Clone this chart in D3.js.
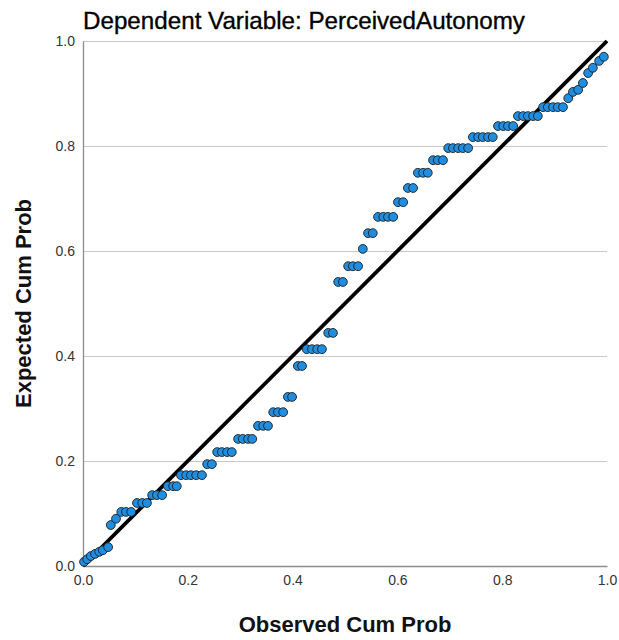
<!DOCTYPE html>
<html>
<head>
<meta charset="utf-8">
<script src="https://cdn.jsdelivr.net/npm/d3@7"></script>
<style>
  html, body { margin: 0; padding: 0; background: #fff; }
  svg { display: block; }
  text { font-family: "Liberation Sans", Arial, sans-serif; }
</style>
</head>
<body>
<svg id="chart" width="619" height="640"></svg>
<script>
const titleText = "Dependent Variable: PerceivedAutonomy";
const xLabel = "Observed Cum Prob";
const yLabel = "Expected Cum Prob";
const tickValues = [0, 0.2, 0.4, 0.6, 0.8, 1.0];

const observed = [
  0.002, 0.008, 0.015, 0.023, 0.031, 0.038, 0.048, 0.053, 0.063, 0.073,
  0.082, 0.092, 0.103, 0.113, 0.122, 0.132, 0.141, 0.151, 0.162, 0.172,
  0.179, 0.187, 0.197, 0.206, 0.216, 0.227, 0.237, 0.246, 0.256, 0.265,
  0.275, 0.284, 0.296, 0.305, 0.315, 0.323, 0.334, 0.344, 0.353, 0.363,
  0.372, 0.382, 0.391, 0.399, 0.410, 0.418, 0.427, 0.437, 0.447, 0.456,
  0.468, 0.477, 0.487, 0.496, 0.506, 0.515, 0.525, 0.534, 0.544, 0.553,
  0.563, 0.573, 0.582, 0.592, 0.601, 0.611, 0.620, 0.630, 0.639, 0.649,
  0.658, 0.668, 0.677, 0.687, 0.697, 0.706, 0.716, 0.725, 0.735, 0.744,
  0.754, 0.763, 0.773, 0.782, 0.792, 0.802, 0.811, 0.821, 0.830, 0.840,
  0.849, 0.859, 0.868, 0.878, 0.887, 0.897, 0.906, 0.916, 0.926, 0.935,
  0.945, 0.954, 0.964, 0.973, 0.985, 0.994
];
const expected = [
  0.008, 0.013, 0.019, 0.023, 0.027, 0.030, 0.036, 0.078, 0.090, 0.103,
  0.103, 0.103, 0.120, 0.120, 0.120, 0.135, 0.135, 0.135, 0.152, 0.152,
  0.152, 0.173, 0.173, 0.173, 0.173, 0.173, 0.194, 0.194, 0.217, 0.217,
  0.217, 0.217, 0.242, 0.242, 0.242, 0.242, 0.267, 0.267, 0.267, 0.293,
  0.293, 0.293, 0.322, 0.322, 0.381, 0.381, 0.413, 0.413, 0.413, 0.413,
  0.444, 0.444, 0.541, 0.541, 0.571, 0.571, 0.571, 0.604, 0.634, 0.634,
  0.665, 0.665, 0.665, 0.665, 0.693, 0.693, 0.720, 0.720, 0.749, 0.749,
  0.749, 0.773, 0.773, 0.773, 0.796, 0.796, 0.796, 0.796, 0.796, 0.817,
  0.817, 0.817, 0.817, 0.817, 0.838, 0.838, 0.838, 0.838, 0.857, 0.857,
  0.857, 0.857, 0.857, 0.874, 0.874, 0.874, 0.874, 0.874, 0.891, 0.903,
  0.907, 0.920, 0.939, 0.949, 0.962, 0.970
];
const refLine = [[0, 0], [1, 1]];

const svg = d3.select("#chart");
const mLeft = 83, mRight = 607, mTop = 41, mBottom = 566;

const x = d3.scaleLinear().domain([0, 1]).range([mLeft, mRight]);
const y = d3.scaleLinear().domain([0, 1]).range([mBottom, mTop]);

// gridlines
svg.append("g")
  .selectAll("line")
  .data(tickValues.filter(d => d > 0))
  .join("line")
  .attr("x1", mLeft).attr("x2", mRight)
  .attr("y1", d => y(d)).attr("y2", d => y(d))
  .attr("stroke", "#c8c8c8").attr("stroke-width", 1)
  .attr("shape-rendering", "crispEdges");

// axes
const xAxis = d3.axisBottom(x).tickValues(tickValues).tickFormat(d3.format(".1f")).tickSize(0).tickPadding(9);
const yAxis = d3.axisLeft(y).tickValues(tickValues).tickFormat(d3.format(".1f")).tickSize(0).tickPadding(8);

const gx = svg.append("g").attr("transform", `translate(0,${mBottom})`).call(xAxis);
const gy = svg.append("g").attr("transform", `translate(${mLeft},0)`).call(yAxis);
[gx, gy].forEach(g => {
  g.select(".domain").attr("stroke", "#8c8c8c").attr("stroke-width", 1.3);
  g.selectAll("text").attr("font-size", 14).attr("fill", "#333")
    .attr("font-family", "'Liberation Sans', Arial, sans-serif");
});

// reference line
svg.append("path")
  .datum(refLine)
  .attr("d", d3.line().x(d => x(d[0])).y(d => y(d[1])))
  .attr("stroke", "#000").attr("stroke-width", 3.8).attr("fill", "none");

// points
svg.append("g")
  .selectAll("circle")
  .data(observed.map((o, i) => [o, expected[i]]))
  .join("circle")
  .attr("cx", d => x(d[0]))
  .attr("cy", d => y(d[1]))
  .attr("r", 4.4)
  .attr("fill", "#1f8ee0")
  .attr("stroke", "#1c1c1c")
  .attr("stroke-width", 0.9);

// title
svg.append("text")
  .attr("x", mLeft).attr("y", 29)
  .attr("font-size", 24.2)
  .attr("fill", "#000")
  .attr("stroke", "#000").attr("stroke-width", 0.35)
  .text(titleText);

// axis labels
svg.append("text")
  .attr("x", (mLeft + mRight) / 2).attr("y", 632)
  .attr("text-anchor", "middle")
  .attr("font-size", 22).attr("font-weight", "bold")
  .attr("fill", "#111")
  .text(xLabel);

svg.append("text")
  .attr("transform", `translate(31,${(mTop + mBottom) / 2}) rotate(-90)`)
  .attr("text-anchor", "middle")
  .attr("font-size", 22).attr("font-weight", "bold")
  .attr("fill", "#111")
  .text(yLabel);
</script>
</body>
</html>
